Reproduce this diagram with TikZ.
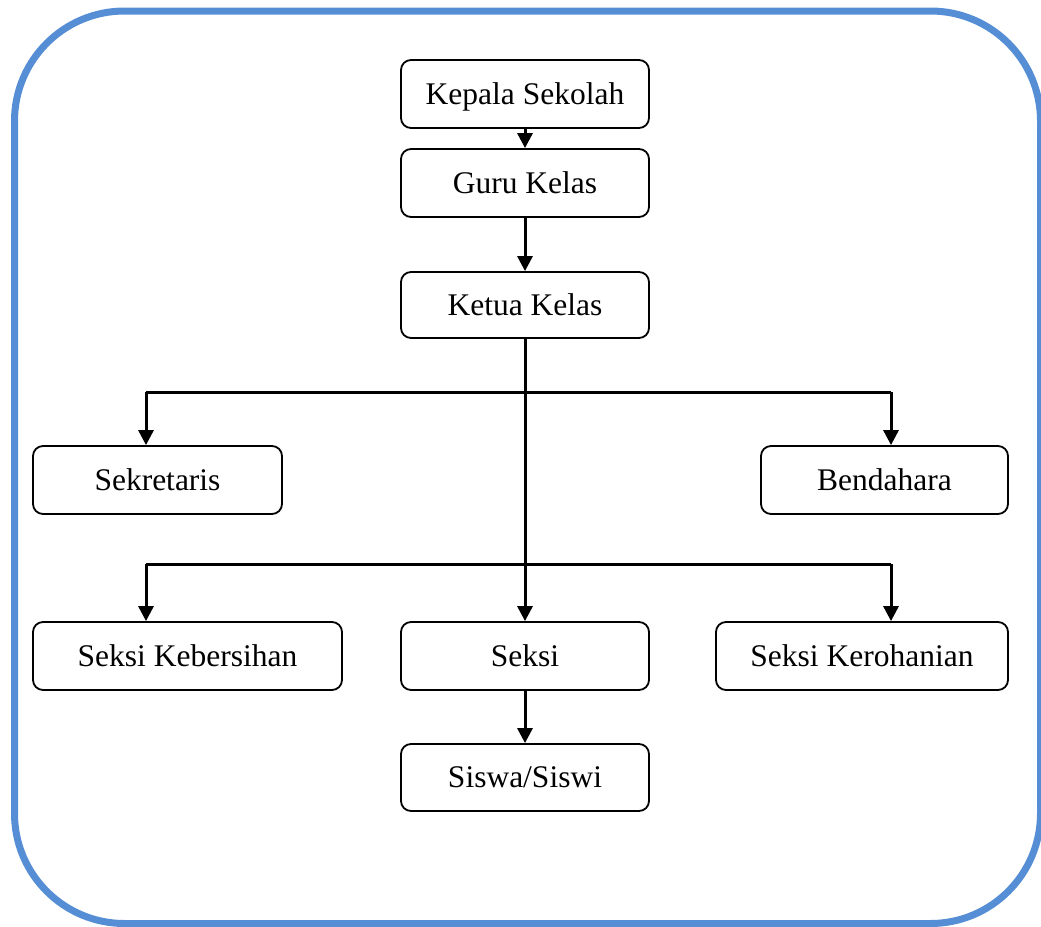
\documentclass[tikz,border=0pt]{standalone}
\usepackage{fontspec}
\setmainfont{Liberation Serif}
\usetikzlibrary{arrows.meta}
\definecolor{frameblue}{RGB}{85,142,213}

\begin{document}
\begin{tikzpicture}[x=1pt, y=-1pt,
  unitbox/.style={draw, rounded corners=10pt, line width=1.8pt, inner sep=0pt,
    minimum height=68pt, text height=24pt, text depth=4pt,
    font=\fontsize{31.5}{36}\selectfont},
  link/.style={line width=3pt, -{Triangle[length=15pt,width=15pt]}}]
\useasboundingbox (0,0) rectangle (1041,926);
\draw[frameblue, line width=7pt, rounded corners=110pt] (14.5,11) rectangle (1040.5,923.5);
\node[unitbox, minimum width=248pt] (kepala) at (525,94) {Kepala Sekolah};
\node[unitbox, minimum width=248pt] (guru) at (525,183) {Guru Kelas};
\node[unitbox, minimum width=248pt, minimum height=66pt] (ketua) at (525,305) {Ketua Kelas};
\node[unitbox, minimum width=249pt] (sekretaris) at (157.5,480) {Sekretaris};
\node[unitbox, minimum width=247pt] (bendahara) at (884.5,480) {Bendahara};
\node[unitbox, minimum width=309pt] (kebersihan) at (187.5,656) {Seksi Kebersihan};
\node[unitbox, minimum width=248pt] (seksi) at (525,656) {Seksi};
\node[unitbox, minimum width=292pt] (kerohanian) at (862,656) {Seksi Kerohanian};
\node[unitbox, minimum width=248pt, minimum height=67pt] (siswa) at (525,777.5) {Siswa/Siswi};
\coordinate (tl) at (146,392);
\coordinate (tr) at (891,392);
\coordinate (bl) at (146,564);
\coordinate (br) at (891,564);
\draw[link] (kepala) -- (guru);
\draw[link] (guru) -- (ketua);
\draw[link] (ketua) -- (seksi);
\draw[link] (seksi) -- (siswa);
\draw[line width=3pt] (tl) -- (tr);
\draw[line width=3pt] (bl) -- (br);
\draw[link] (tl) -- (tl |- sekretaris.north);
\draw[link] (tr) -- (tr |- bendahara.north);
\draw[link] (bl) -- (bl |- kebersihan.north);
\draw[link] (br) -- (br |- kerohanian.north);
\end{tikzpicture}
\end{document}
